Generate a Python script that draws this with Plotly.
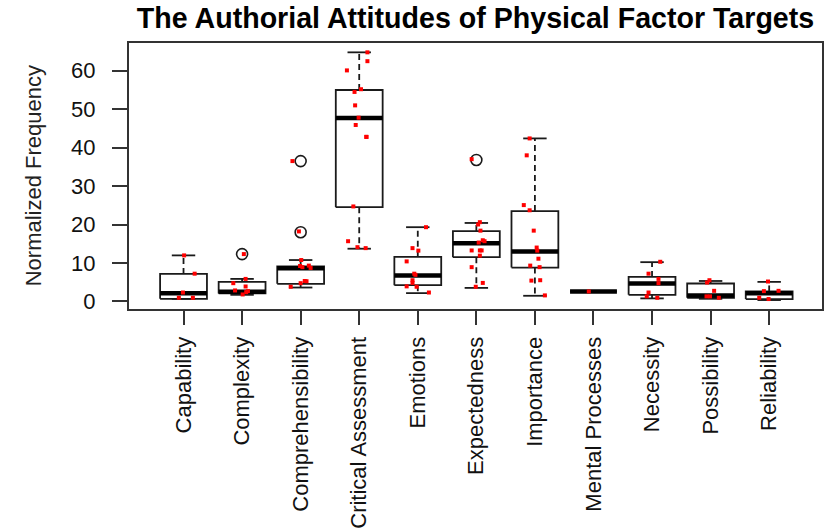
import plotly.graph_objects as go

categories = ["Capability", "Complexity", "Comprehensibility", "Critical Assessment",
              "Emotions", "Expectedness", "Importance", "Mental Processes",
              "Necessity", "Possibility", "Reliability"]

# five-number summaries per category
lower_whisker = [0.67, 1.7, 3.6, 13.7, 2.14, 3.5, 1.45, 2.58, 0.77, 0.67, 0.34]
q1 = [0.67, 2.07, 4.55, 24.5, 4.2, 11.5, 8.8, 2.58, 1.7, 0.93, 0.6]
median = [2.14, 2.5, 8.6, 47.7, 6.7, 15.1, 13.0, 2.58, 4.65, 1.55, 2.14]
q3 = [7.13, 5.07, 9.12, 55.0, 11.6, 18.3, 23.5, 2.58, 6.36, 4.65, 2.58]
upper_whisker = [11.96, 5.84, 10.75, 64.8, 19.3, 20.4, 42.4, 2.58, 10.2, 5.3, 5.07]

outliers = [[], [12.3], [36.5, 18.0], [], [], [36.8], [], [], [], [], []]

# observed values per category and their horizontal jitter
points = [
    [11.96, 7.2, 2.3, 0.93, 0.93],
    [12.3, 5.84, 4.73, 3.87, 2.84, 2.66, 2.4, 1.8],
    [36.5, 18.2, 10.75, 9.2, 8.9, 9.3, 8.7, 5.3, 5.24, 4.73, 3.8],
    [64.8, 62.5, 60.1, 55.2, 54.5, 51.0, 47.8, 45.9, 42.8, 42.8, 24.7, 15.65, 14.1, 13.85],
    [19.3, 13.85, 13.2, 10.4, 7.2, 6.9, 5.5, 4.8, 3.9, 3.8, 2.3],
    [37.0, 20.6, 20.0, 18.4, 15.9, 15.65, 15.3, 13.25, 13.25, 13.25, 11.9, 8.9, 4.8, 3.8],
    [42.4, 38.0, 25.05, 23.7, 18.4, 14.0, 13.2, 11.1, 9.3, 8.9, 5.4, 5.5, 1.55],
    [2.58],
    [10.3, 7.2, 5.84, 4.73, 2.3, 1.3, 0.93],
    [5.5, 4.9, 2.74, 1.3, 1.3, 0.93],
    [5.16, 2.66, 2.74, 0.93, 0.6],
]
jitter = [
    [0.01, 0.19, -0.01, -0.08, 0.16],
    [0.03, 0.06, -0.15, 0.06, -0.12, 0.1, 0.07, 0.01],
    [-0.14, -0.03, 0.01, -0.01, 0.03, 0.14, 0.17, 0.07, 0.1, 0.0, -0.17],
    [0.14, 0.14, -0.21, 0.03, -0.08, -0.07, -0.01, -0.06, 0.12, 0.125, -0.1, -0.19, -0.03, 0.11],
    [0.14, -0.09, 0.01, -0.19, -0.06, -0.04, -0.09, -0.09, -0.19, -0.02, 0.19],
    [-0.08, 0.06, 0.03, 0.07, 0.11, 0.14, 0.04, -0.08, 0.06, 0.09, 0.06, -0.08, 0.11, -0.01],
    [-0.09, -0.14, -0.19, -0.09, -0.02, 0.03, 0.04, 0.06, -0.08, 0.08, -0.06, 0.09, 0.17],
    [-0.08],
    [0.14, -0.06, 0.11, 0.11, -0.06, -0.09, 0.09],
    [-0.02, -0.06, 0.06, -0.07, -0.01, 0.14],
    [-0.02, -0.09, 0.16, -0.17, -0.01],
]

y_ticks = [0, 10, 20, 30, 40, 50, 60]

BOX_HALF = 0.4
STAPLE_HALF = 0.2
INK = "#1a1a1a"

fig = go.Figure()
positions = list(range(1, len(categories) + 1))

# whiskers (dashed) and staples
wx, wy, sx, sy = [], [], [], []
for i, pos in enumerate(positions):
    wx += [pos, pos, None, pos, pos, None]
    wy += [q3[i], upper_whisker[i], None, q1[i], lower_whisker[i], None]
    sx += [pos - STAPLE_HALF, pos + STAPLE_HALF, None, pos - STAPLE_HALF, pos + STAPLE_HALF, None]
    sy += [upper_whisker[i], upper_whisker[i], None, lower_whisker[i], lower_whisker[i], None]
fig.add_trace(go.Scatter(x=wx, y=wy, mode="lines", line=dict(color=INK, width=1.8, dash="6px,4px"),
                         hoverinfo="skip", showlegend=False))
fig.add_trace(go.Scatter(x=sx, y=sy, mode="lines", line=dict(color=INK, width=1.8),
                         hoverinfo="skip", showlegend=False))

# boxes
for i, pos in enumerate(positions):
    fig.add_trace(go.Scatter(
        x=[pos - BOX_HALF, pos + BOX_HALF, pos + BOX_HALF, pos - BOX_HALF, pos - BOX_HALF],
        y=[q1[i], q1[i], q3[i], q3[i], q1[i]],
        mode="lines", fill="toself", fillcolor="white",
        line=dict(color=INK, width=1.8), hoverinfo="skip", showlegend=False))

# medians
mx, my = [], []
for i, pos in enumerate(positions):
    mx += [pos - BOX_HALF, pos + BOX_HALF, None]
    my += [median[i], median[i], None]
fig.add_trace(go.Scatter(x=mx, y=my, mode="lines", line=dict(color="black", width=4.5),
                         hoverinfo="skip", showlegend=False))

# outliers
ox, oy = [], []
for i, pos in enumerate(positions):
    for v in outliers[i]:
        ox.append(pos)
        oy.append(v)
fig.add_trace(go.Scatter(x=ox, y=oy, mode="markers",
                         marker=dict(symbol="circle-open", size=11, color=INK, line=dict(width=1.6)),
                         hoverinfo="skip", showlegend=False))

# jittered observations
px, py = [], []
for i, pos in enumerate(positions):
    for v, d in zip(points[i], jitter[i]):
        px.append(pos + d)
        py.append(v)
fig.add_trace(go.Scatter(x=px, y=py, mode="markers",
                         marker=dict(symbol="square", size=4, color="#ff0000"),
                         showlegend=False))

font_family = "Liberation Sans, Arial, sans-serif"

fig.update_layout(
    width=826, height=531,
    margin=dict(l=129, r=2, t=43, b=220),
    paper_bgcolor="white", plot_bgcolor="white",
    font=dict(family=font_family, size=22, color="#111111"),
    title=dict(text="<b>The Authorial Attitudes of Physical Factor Targets</b>",
               x=0.5, xref="paper", xanchor="center",
               y=1 - 18 / 531, yref="container", yanchor="middle",
               font=dict(family=font_family, size=28.6, color="black")),
    xaxis=dict(range=[0.069, 11.902], tickmode="array", tickvals=positions, ticktext=categories,
               tickangle=-90, ticks="outside", ticklen=14, tickwidth=1.8, tickcolor="#333333",
               showline=True, linecolor="#333333", linewidth=2, mirror=True,
               showgrid=False, zeroline=False, ticklabelstandoff=3),
    yaxis=dict(range=[-1.99, 67.23], tickmode="array", tickvals=y_ticks,
               ticks="outside", ticklen=15, tickwidth=1.8, tickcolor="#333333",
               showline=True, linecolor="#333333", linewidth=2, mirror=True,
               showgrid=False, zeroline=False, ticklabelstandoff=12),
    annotations=[dict(text="Normalized Frequency", textangle=-90, showarrow=False,
                      xref="paper", yref="paper", x=(33 - 129) / 695, y=(311 - 177) / 268,
                      xanchor="center", yanchor="middle",
                      font=dict(family=font_family, size=22, color="#222222"))],
)

fig.write_html("out.html")
